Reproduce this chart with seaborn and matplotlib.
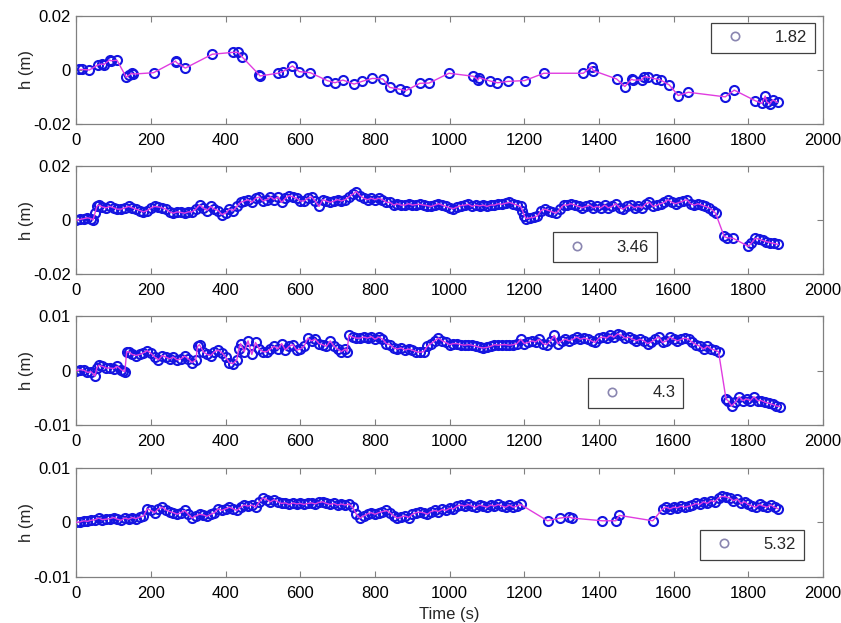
import numpy as np
import matplotlib.pyplot as plt
import seaborn as sns
from matplotlib.lines import Line2D

# ---- data (t in s, h in m) ----
t1 = [8, 14, 35, 57, 68, 74, 89, 93, 109, 134,
      142, 149, 153, 207, 266, 268, 292, 364, 420, 433,
      445, 490, 492, 539, 553, 579, 597, 627, 672, 693,
      714, 744, 765, 793, 821, 839, 867, 883, 920, 945,
      998, 1063, 1076, 1079, 1107, 1128, 1155, 1201, 1252, 1358,
      1380, 1384, 1447, 1469, 1487, 1492, 1514, 1520, 1532, 1552,
      1565, 1588, 1612, 1639, 1738, 1762, 1818, 1836, 1845, 1849,
      1858, 1865, 1878]
h1 = [0.0002, 0.0002, 0.0, 0.0018, 0.0022, 0.002, 0.0037, 0.0034, 0.0036, -0.0027,
      -0.0018, -0.0012, -0.0015, -0.001, 0.0033, 0.0028, 0.0007, 0.0058, 0.0065, 0.0065,
      0.0047, -0.0018, -0.0022, -0.0012, -0.0006, 0.0015, -0.0006, -0.001, -0.0039, -0.0047,
      -0.0037, -0.0052, -0.0042, -0.0031, -0.0033, -0.0064, -0.0071, -0.0076, -0.0049, -0.0048,
      -0.0012, -0.0023, -0.0037, -0.0028, -0.004, -0.0047, -0.0042, -0.0039, -0.0012, -0.0012,
      0.0012, -0.0002, -0.0033, -0.0061, -0.0034, -0.0037, -0.0037, -0.0025, -0.0027, -0.0033,
      -0.0037, -0.0055, -0.0094, -0.0082, -0.0099, -0.0074, -0.0113, -0.0123, -0.0096, -0.0117,
      -0.0125, -0.011, -0.0119]

t2 = [0, 10, 20, 30, 40, 45, 50, 55, 60, 70,
      80, 90, 100, 110, 120, 130, 140, 150, 160, 170,
      180, 190, 200, 210, 220, 230, 240, 250, 260, 270,
      280, 290, 300, 310, 320, 330, 340, 350, 360, 370,
      380, 390, 400, 410, 420, 430, 440, 450, 460, 470,
      480, 490, 500, 510, 520, 530, 540, 550, 560, 570,
      580, 590, 600, 610, 620, 630, 640, 650, 660, 670,
      680, 690, 700, 710, 720, 730, 740, 750, 760, 770,
      780, 790, 800, 810, 820, 830, 840, 850, 860, 870,
      880, 890, 900, 910, 920, 930, 940, 950, 960, 970,
      980, 990, 1000, 1010, 1020, 1030, 1040, 1050, 1060, 1070,
      1080, 1090, 1100, 1110, 1120, 1130, 1140, 1150, 1160, 1170,
      1180, 1190, 1195, 1200, 1205, 1215, 1225, 1235, 1245, 1255,
      1265, 1275, 1285, 1295, 1305, 1315, 1325, 1335, 1345, 1355,
      1365, 1375, 1385, 1395, 1405, 1415, 1425, 1435, 1445, 1455,
      1465, 1475, 1485, 1495, 1505, 1515, 1525, 1535, 1545, 1555,
      1565, 1575, 1585, 1595, 1605, 1615, 1625, 1635, 1645, 1655,
      1665, 1675, 1685, 1695, 1705, 1712, 1735, 1742, 1760, 1800,
      1808, 1818, 1828, 1838, 1848, 1858, 1868, 1880]
h2 = [0.0, 0.0002, 0.0005, 0.0008, 0.0005, 0.0, 0.0025, 0.005, 0.0055, 0.0048,
      0.0045, 0.005, 0.0045, 0.004, 0.004, 0.0045, 0.005, 0.0045, 0.004, 0.0035,
      0.003, 0.0035, 0.0045, 0.005, 0.0048, 0.0045, 0.004, 0.003, 0.0025, 0.003,
      0.0028, 0.0025, 0.003, 0.003, 0.004, 0.0055, 0.0045, 0.0035, 0.005, 0.004,
      0.0035, 0.002, 0.0025, 0.004, 0.0035, 0.005, 0.0065, 0.007, 0.0075, 0.0065,
      0.008, 0.0085, 0.007, 0.0075, 0.0085, 0.0075, 0.0085, 0.0065, 0.008, 0.009,
      0.0085, 0.008, 0.007, 0.007, 0.008, 0.0085, 0.007, 0.005, 0.0075, 0.007,
      0.0065, 0.007, 0.0075, 0.007, 0.0075, 0.0085, 0.0095, 0.0105, 0.009, 0.008,
      0.0075, 0.008, 0.0075, 0.008, 0.0075, 0.0065, 0.0065, 0.0055, 0.006, 0.0055,
      0.0055, 0.006, 0.0055, 0.0057, 0.0058, 0.0055, 0.0053, 0.005, 0.0055, 0.006,
      0.0055, 0.005, 0.0045, 0.0042, 0.0048, 0.0053, 0.0055, 0.0058, 0.005, 0.0055,
      0.0052, 0.0055, 0.005, 0.0055, 0.0055, 0.006, 0.0058, 0.0062, 0.0065, 0.006,
      0.0055, 0.005, 0.0035, 0.0015, 0.0005, 0.0008, 0.001, 0.0015, 0.0035, 0.004,
      0.0035, 0.003, 0.0025, 0.004, 0.0055, 0.0055, 0.006, 0.0055, 0.005, 0.0045,
      0.005, 0.0055, 0.0045, 0.005, 0.0045, 0.0055, 0.0045, 0.005, 0.006, 0.0045,
      0.004, 0.005, 0.0055, 0.0045, 0.005, 0.0045, 0.006, 0.0065, 0.005, 0.0055,
      0.006, 0.0065, 0.0075, 0.0065, 0.006, 0.0065, 0.007, 0.0075, 0.006, 0.0055,
      0.006, 0.0055, 0.005, 0.0045, 0.0035, 0.0025, -0.006, -0.0065, -0.0068, -0.0097,
      -0.0085, -0.0068, -0.007, -0.0075, -0.008, -0.0083, -0.0086, -0.009]

t3 = [0, 10, 20, 30, 40, 50, 55, 60, 70, 80,
      90, 100, 110, 120, 125, 130, 135, 140, 150, 160,
      170, 180, 190, 200, 210, 220, 230, 240, 250, 260,
      270, 280, 290, 300, 310, 320, 325, 330, 340, 350,
      360, 370, 380, 390, 400, 410, 420, 430, 435, 440,
      450, 460, 470, 480, 490, 500, 510, 520, 530, 540,
      550, 560, 570, 580, 590, 600, 610, 620, 630, 640,
      650, 660, 670, 680, 690, 700, 710, 720, 725, 730,
      740, 750, 760, 770, 780, 790, 800, 810, 820, 830,
      840, 850, 860, 870, 880, 890, 900, 910, 920, 930,
      940, 950, 960, 970, 980, 990, 1000, 1010, 1020, 1030,
      1040, 1050, 1060, 1070, 1080, 1090, 1100, 1110, 1120, 1130,
      1140, 1150, 1160, 1170, 1180, 1190, 1200, 1210, 1220, 1230,
      1240, 1250, 1260, 1270, 1280, 1290, 1300, 1310, 1320, 1330,
      1340, 1350, 1360, 1370, 1380, 1390, 1400, 1410, 1420, 1430,
      1440, 1450, 1460, 1470, 1480, 1490, 1500, 1510, 1520, 1530,
      1540, 1550, 1560, 1570, 1580, 1590, 1600, 1610, 1620, 1630,
      1640, 1650, 1660, 1670, 1680, 1690, 1700, 1710, 1720, 1740,
      1745, 1755, 1765, 1775, 1785, 1795, 1805, 1815, 1825, 1835,
      1845, 1855, 1865, 1875, 1885]
h3 = [0.0, 0.0002, 0.0001, -0.0003, -0.0002, -0.001, 0.0005, 0.001, 0.0008, 0.0005,
      0.0005, 0.0004, 0.0008, 0.0002, 0.0, -0.0002, 0.0035, 0.0035, 0.003, 0.0028,
      0.003, 0.0033, 0.0037, 0.0032, 0.0025, 0.002, 0.0028, 0.0025, 0.0022, 0.0025,
      0.002, 0.0022, 0.0027, 0.0022, 0.0015, 0.002, 0.0045, 0.0048, 0.0035, 0.003,
      0.0028, 0.0035, 0.0038, 0.0033, 0.0025, 0.0015, 0.0013, 0.002, 0.004, 0.005,
      0.0035, 0.0055, 0.003, 0.0052, 0.004, 0.0035, 0.0035, 0.004, 0.0045, 0.004,
      0.005, 0.0038, 0.0045, 0.0048, 0.0038, 0.004, 0.0045, 0.006, 0.0055, 0.0058,
      0.005, 0.0048, 0.0045, 0.0055, 0.0045, 0.004, 0.0035, 0.004, 0.0035, 0.0065,
      0.0062, 0.006, 0.006, 0.0062, 0.006, 0.0063, 0.0058, 0.0062, 0.0058, 0.005,
      0.0048, 0.0042, 0.004, 0.0042, 0.0038, 0.004, 0.0038, 0.0035, 0.0034, 0.0035,
      0.0045, 0.005, 0.0055, 0.006, 0.0055, 0.0052, 0.0048, 0.005, 0.005, 0.0048,
      0.0047, 0.0048, 0.0047, 0.0045, 0.0043, 0.0042, 0.0043, 0.0045, 0.0048, 0.0047,
      0.0048, 0.0048, 0.0047, 0.0048, 0.005, 0.0058, 0.005, 0.0052, 0.0055, 0.0053,
      0.0058, 0.005, 0.0048, 0.0055, 0.0065, 0.005, 0.0055, 0.0058, 0.0055, 0.0058,
      0.0062, 0.0058, 0.006, 0.0058, 0.0055, 0.0052, 0.006, 0.0062, 0.006, 0.0065,
      0.0062, 0.0068, 0.0065, 0.006, 0.0062, 0.0058, 0.0055, 0.0058, 0.0055, 0.005,
      0.0053, 0.0058, 0.0062, 0.0052, 0.0055, 0.0062, 0.0058, 0.0055, 0.0058, 0.006,
      0.0058, 0.0052, 0.0048, 0.0045, 0.004, 0.0045, 0.004, 0.0038, 0.0035, -0.0052,
      -0.0055, -0.0065, -0.0058, -0.0048, -0.0055, -0.0052, -0.0055, -0.0048, -0.0055, -0.0055,
      -0.0058, -0.006, -0.0062, -0.0065, -0.0066]

t4 = [0, 10, 20, 30, 40, 50, 60, 70, 80, 90,
      100, 110, 120, 130, 140, 150, 160, 170, 180, 190,
      200, 210, 220, 230, 240, 250, 260, 270, 280, 290,
      300, 310, 320, 330, 340, 350, 360, 370, 380, 390,
      400, 410, 420, 430, 440, 450, 460, 470, 480, 490,
      500, 510, 520, 530, 540, 550, 560, 570, 580, 590,
      600, 610, 620, 630, 640, 650, 660, 670, 680, 690,
      700, 710, 720, 730, 740, 750, 760, 770, 780, 790,
      800, 810, 820, 830, 840, 850, 860, 870, 880, 890,
      900, 910, 920, 930, 940, 950, 960, 970, 980, 990,
      1000, 1010, 1020, 1030, 1040, 1050, 1060, 1070, 1080, 1090,
      1100, 1110, 1120, 1130, 1140, 1150, 1160, 1170, 1180, 1190,
      1262, 1295, 1320, 1328, 1409, 1445, 1454, 1544,
      1570, 1580, 1590, 1600, 1610, 1620, 1630, 1640, 1650, 1660,
      1670, 1680, 1690, 1700, 1710, 1720, 1730, 1740, 1750, 1760,
      1770, 1780, 1790, 1800, 1810, 1820, 1830, 1840, 1850, 1860,
      1870, 1880]
h4 = [0.0, 0.0001, 0.0003, 0.0002, 0.0004, 0.0005, 0.0008, 0.0005, 0.0006, 0.0007,
      0.0009, 0.0006, 0.0004, 0.0008, 0.0006, 0.0009, 0.0007, 0.001, 0.0012, 0.0025,
      0.0022, 0.0018, 0.0025, 0.0028, 0.0023, 0.002, 0.0018, 0.0015, 0.0018, 0.0022,
      0.0015, 0.0008, 0.0012, 0.0015, 0.0014, 0.0011, 0.0015, 0.0018, 0.0025, 0.0022,
      0.0025, 0.0028, 0.0025, 0.0022, 0.0028, 0.0032, 0.003, 0.0032, 0.0028, 0.0038,
      0.0045, 0.0042, 0.0038, 0.0042, 0.0038, 0.0035, 0.0036, 0.0033, 0.0036, 0.0034,
      0.0035, 0.0033, 0.0035, 0.0036, 0.0034, 0.0037, 0.0038, 0.0035, 0.0033, 0.0035,
      0.0032, 0.0034, 0.0032, 0.0034, 0.0028, 0.0015, 0.0008, 0.0012, 0.0016, 0.0018,
      0.0015, 0.0018, 0.002, 0.0022, 0.0018, 0.0012, 0.0008, 0.001, 0.0012, 0.0009,
      0.0015, 0.0018, 0.0019, 0.0018, 0.0015, 0.002, 0.0022, 0.002, 0.0024, 0.0022,
      0.0026, 0.0025, 0.003, 0.0032, 0.003, 0.0033, 0.003, 0.0028, 0.0032, 0.003,
      0.0028, 0.0032, 0.003, 0.0033, 0.003, 0.0028, 0.0032, 0.0028, 0.003, 0.0033,
      0.0003, 0.0008, 0.001, 0.0008, 0.0003, 0.0003, 0.0013, 0.0003,
      0.0025, 0.0028, 0.0025, 0.0028, 0.0027, 0.003, 0.0028, 0.003, 0.0032, 0.0035,
      0.0033, 0.0038, 0.0035, 0.004, 0.0038, 0.0045, 0.0048, 0.0047, 0.0045, 0.004,
      0.0043, 0.0035, 0.0038, 0.0033, 0.003, 0.0028, 0.0033, 0.003, 0.0028, 0.0032,
      0.0028, 0.0025]

legend_labels = ['1.82', '3.46', '4.3', '5.32']
y_limits = [0.02, 0.02, 0.01, 0.01]
ytick_text = [['-0.02', '0', '0.02'], ['-0.02', '0', '0.02'],
              ['-0.01', '0', '0.01'], ['-0.01', '0', '0.01']]

BLUE = '#1414e0'
MAG = '#e03ce0'
GRAY = '#808080'

sns.set_style('ticks')
plt.rcParams['font.family'] = ['Liberation Sans', 'DejaVu Sans']

fig = plt.figure(figsize=(8.41, 6.23), dpi=100)
bottoms = [0.8005, 0.5597, 0.3178, 0.0743]
leg_anchor = [(0.989, 0.935), (0.777, 0.387), (0.812, 0.434), (0.974, 0.434)]

series = [(t1, h1), (t2, h2), (t3, h3), (t4, h4)]
for i, (t, h) in enumerate(series):
    ax = fig.add_axes([0.0907, bottoms[i], 0.888, 0.1743])
    # open circles first, connecting line drawn on top like the original
    sns.lineplot(x=t, y=h, ax=ax, marker='o', linestyle='none', mfc='none',
                 mec=BLUE, ms=6.5, mew=1.5, sort=False, estimator=None, zorder=2)
    sns.lineplot(x=t, y=h, ax=ax, color=MAG, lw=1.0, sort=False,
                 estimator=None, zorder=3)

    lim = y_limits[i]
    ax.set_xlim(0, 2000)
    ax.set_ylim(-lim, lim)
    ax.set_xticks(np.arange(0, 2001, 200))
    ax.set_yticks([-lim, 0, lim])
    ax.set_yticklabels(ytick_text[i])
    ax.tick_params(direction='in', top=True, right=True, length=4.5,
                   width=0.8, color=GRAY, labelsize=12, labelcolor='black')
    ax.tick_params(axis='x', pad=6.5)
    ax.tick_params(axis='y', pad=4)
    for sp in ax.spines.values():
        sp.set_color(GRAY)
        sp.set_linewidth(0.9)

    ax.set_ylabel('h (m)', fontsize=12)
    ax.yaxis.set_label_coords(-0.056, 0.5)
    ax.set_xlabel('')

    handle = Line2D([], [], marker='o', linestyle='none', mfc='none',
                    mec='#8a86b0', ms=6, mew=1.2)
    leg = ax.legend([handle], [legend_labels[i]], loc='upper right',
                    bbox_to_anchor=leg_anchor[i], fontsize=12,
                    frameon=True, fancybox=False, framealpha=1,
                    handlelength=2.0, handletextpad=1.4, borderpad=0.45,
                    borderaxespad=0)
    leg.get_frame().set_edgecolor('#404040')
    leg.get_frame().set_linewidth(0.9)

    if i == 3:
        ax.set_xlabel('Time (s)', fontsize=12)
        ax.xaxis.set_label_coords(0.5, -0.28)

fig.savefig('out.png', dpi=100)
